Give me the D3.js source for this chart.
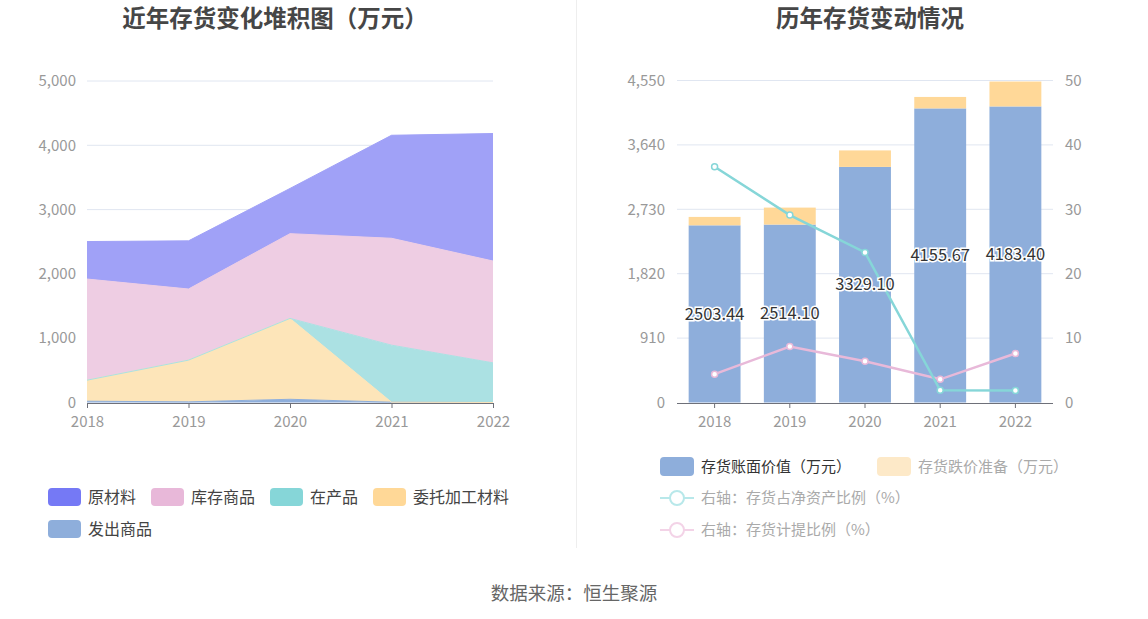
<!DOCTYPE html>
<html><head><meta charset="utf-8">
<script src="https://cdn.jsdelivr.net/npm/d3@7"></script>
<style>
html,body{margin:0;padding:0;background:#fff;}
svg{display:block;font-family:"Noto Sans CJK SC","Noto Sans",sans-serif;}
</style></head>
<body><svg id="c" width="1148" height="619"></svg>
<script>
// ---- data ----
const years = ["2018","2019","2020","2021","2022"];
const stackKeys = ["发出商品","委托加工材料","在产品","库存商品","原材料"];
const fachuShangpin = [20, 10, 50, 5, 0];
const weituoJiagong = [327, 649, 1258, 0, 0];
const zaiChanpin = [0, 0, 0, 887, 617];
const kucunShangpin = [1573, 1106, 1318, 1662, 1583];
const yuanCailiao = [583, 749, 703, 1602, 1983];
const leftTicks = [0, 1000, 2000, 3000, 4000, 5000];

const bookValue = [2503.44, 2514.10, 3329.10, 4155.67, 4183.40];
const impairment = [119, 240, 233, 162, 352];
const ratioNetAssets = [36.6, 29.1, 23.3, 1.9, 1.85];
const provisionRatio = [4.4, 8.7, 6.4, 3.6, 7.6];
const rightLeftTicks = [0, 910, 1820, 2730, 3640, 4550];
const rightRightTicks = [0, 10, 20, 30, 40, 50];

const svg = d3.select("#c");
const fmt = d3.format(",");
const axisColor = "#6e7079", gridColor = "#e0e6f1", labelColor = "#999";

// titles
svg.append("text").attr("x", 275).attr("y", 27).attr("text-anchor","middle")
  .attr("font-size", 23.5).attr("font-weight","bold").attr("fill","#464646").text("近年存货变化堆积图（万元）");
svg.append("text").attr("x", 870).attr("y", 27).attr("text-anchor","middle")
  .attr("font-size", 23.5).attr("font-weight","bold").attr("fill","#464646").text("历年存货变动情况");
// separator
svg.append("line").attr("x1",576.5).attr("x2",576.5).attr("y1",0).attr("y2",548).attr("stroke","#eeeeee");
// source
svg.append("text").attr("x",574).attr("y",600).attr("text-anchor","middle")
  .attr("font-size",18.5).attr("fill","#666").text("数据来源：恒生聚源");

// ---- left chart ----
const xL = d3.scalePoint().domain(years).range([87, 493]);
const yL = d3.scaleLinear().domain([0, 5000]).range([402.5, 81]);
const gL = svg.append("g");
leftTicks.forEach(t => {
  if (t > 0) gL.append("line").attr("x1",87).attr("x2",493).attr("y1",yL(t)).attr("y2",yL(t)).attr("stroke",gridColor);
  gL.append("text").attr("x",76).attr("y",yL(t)).attr("dy","0.35em").attr("text-anchor","end")
    .attr("font-size",15).attr("fill",labelColor).text(fmt(t));
});
const rows = years.map((y,i)=>({year:y,"发出商品":fachuShangpin[i],"委托加工材料":weituoJiagong[i],"在产品":zaiChanpin[i],"库存商品":kucunShangpin[i],"原材料":yuanCailiao[i]}));
const stacked = d3.stack().keys(stackKeys)(rows);
const areaFill = {"原材料":"#a0a1f7","库存商品":"#eecde3","在产品":"#abe1e3","委托加工材料":"#fde5b9","发出商品":"#8eaedb"};
const area = d3.area().x(d=>xL(d.data.year)).y0(d=>yL(d[0])).y1(d=>yL(d[1]));
const line = d3.line().x(d=>xL(d.data.year)).y(d=>yL(d[1]));
stacked.forEach(s => {
  gL.append("path").attr("d", area(s)).attr("fill", areaFill[s.key]);
});
stacked.forEach(s => {
  gL.append("path").attr("d", line(s)).attr("fill","none").attr("stroke", areaFill[s.key]).attr("stroke-width",1);
});
const axL = gL.append("g").attr("transform","translate(0,403)")
  .call(d3.axisBottom(xL).tickSize(5).tickPadding(8));
axL.select(".domain").attr("stroke",axisColor).attr("d","M87,0.5H493");
axL.selectAll(".tick line").attr("stroke",axisColor);
axL.selectAll(".tick text").attr("font-size",15).attr("fill",labelColor).attr("font-family","'Noto Sans CJK SC',sans-serif");

// left legend
const legL = [
  {name:"原材料", c:"#7579f5", x:48, y:497},
  {name:"库存商品", c:"#e8b8d9", x:151, y:497},
  {name:"在产品", c:"#86d6d8", x:270, y:497},
  {name:"委托加工材料", c:"#ffd897", x:373, y:497},
  {name:"发出商品", c:"#8eaedb", x:48, y:529}
];
legL.forEach(d => {
  svg.append("rect").attr("x",d.x).attr("y",d.y-9).attr("width",33).attr("height",18).attr("rx",4).attr("fill",d.c);
  svg.append("text").attr("x",d.x+40).attr("y",d.y).attr("dy","0.35em").attr("font-size",16).attr("fill","#444").text(d.name);
});

// ---- right chart ----
const xR = d3.scaleBand().domain(years).range([677, 1053]).paddingInner(0.31).paddingOuter(0.155);
const yR = d3.scaleLinear().domain([0, 4550]).range([402.5, 80.5]);
const yR2 = d3.scaleLinear().domain([0, 50]).range([402.5, 80.5]);
const gR = svg.append("g");
rightLeftTicks.forEach((t,i) => {
  if (t > 0) gR.append("line").attr("x1",677).attr("x2",1053).attr("y1",yR(t)).attr("y2",yR(t)).attr("stroke",gridColor);
  gR.append("text").attr("x",665).attr("y",yR(t)).attr("dy","0.35em").attr("text-anchor","end")
    .attr("font-size",15).attr("fill",labelColor).text(fmt(t));
});
rightRightTicks.forEach(t => {
  gR.append("text").attr("x",1065).attr("y",yR2(t)).attr("dy","0.35em").attr("text-anchor","start")
    .attr("font-size",15).attr("fill",labelColor).text(t);
});
years.forEach((y,i) => {
  gR.append("rect").attr("x",xR(y)).attr("width",xR.bandwidth()).attr("y",yR(bookValue[i])).attr("height",yR(0)-yR(bookValue[i])).attr("fill","#8eaedb");
  gR.append("rect").attr("x",xR(y)).attr("width",xR.bandwidth()).attr("y",yR(bookValue[i]+impairment[i])).attr("height",yR(bookValue[i])-yR(bookValue[i]+impairment[i])).attr("fill","#ffd898");
});
const axR = gR.append("g").attr("transform","translate(0,403)")
  .call(d3.axisBottom(xR).tickSize(5).tickPadding(8));
axR.select(".domain").attr("stroke",axisColor).attr("d","M677,0.5H1053");
axR.selectAll(".tick line").attr("stroke",axisColor);
axR.selectAll(".tick text").attr("font-size",15).attr("fill",labelColor).attr("font-family","'Noto Sans CJK SC',sans-serif");

const cx = y => xR(y) + xR.bandwidth()/2;
function drawLine(vals, color) {
  const l = d3.line().x((d,i)=>cx(years[i])).y(d=>yR2(d));
  gR.append("path").attr("d", l(vals)).attr("fill","none").attr("stroke",color).attr("stroke-width",2.5);
  vals.forEach((v,i) => {
    gR.append("circle").attr("cx",cx(years[i])).attr("cy",yR2(v)).attr("r",3).attr("fill","#fff").attr("stroke",color).attr("stroke-width",1.5);
  });
}
drawLine(provisionRatio, "#e8b9d9");
drawLine(ratioNetAssets, "#86d6d8");

years.forEach((y,i) => {
  gR.append("text").attr("x",cx(y)).attr("y",yR(bookValue[i]/2)).attr("dy","0.35em").attr("text-anchor","middle")
    .attr("font-size",16.5).attr("fill","#333").attr("stroke","#fff").attr("stroke-width",3).attr("paint-order","stroke")
    .text(bookValue[i].toFixed(2));
});

// right legend
svg.append("rect").attr("x",660).attr("y",457).attr("width",34).attr("height",19).attr("rx",4).attr("fill","#8eaedb");
svg.append("text").attr("x",701).attr("y",466.5).attr("dy","0.35em").attr("font-size",15).attr("fill","#333").text("存货账面价值（万元）");
svg.append("rect").attr("x",877).attr("y",457).attr("width",34).attr("height",19).attr("rx",4).attr("fill","#fde9c8");
svg.append("text").attr("x",918).attr("y",466.5).attr("dy","0.35em").attr("font-size",15).attr("fill","#aaa").text("存货跌价准备（万元）");
[{name:"右轴：存货占净资产比例（%）", c:"#b8e8ea", y:498},{name:"右轴：存货计提比例（%）", c:"#f3d3e7", y:530}].forEach(d => {
  svg.append("line").attr("x1",660).attr("x2",694).attr("y1",d.y).attr("y2",d.y).attr("stroke",d.c).attr("stroke-width",2);
  svg.append("circle").attr("cx",677).attr("cy",d.y).attr("r",7).attr("fill","#fff").attr("stroke",d.c).attr("stroke-width",2);
  svg.append("text").attr("x",701).attr("y",d.y).attr("dy","0.35em").attr("font-size",15).attr("fill","#aaa").text(d.name);
});
</script></body></html>
